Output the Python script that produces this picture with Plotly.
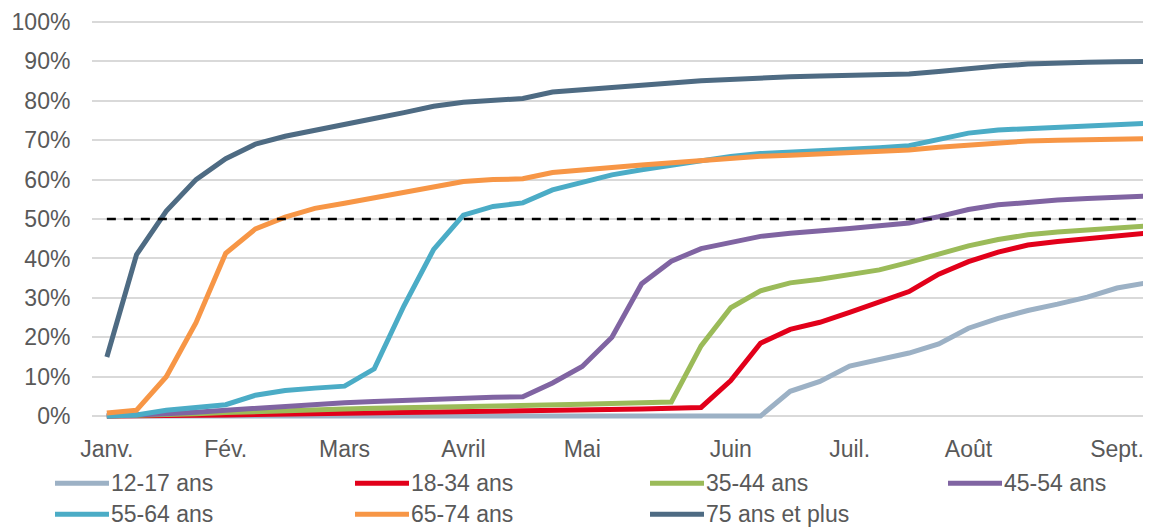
import plotly.graph_objects as go

# ---- data ----
weeks = list(range(36))
tick_pos = [0, 4, 8, 12, 16, 21, 25, 29, 34]
tick_text = ["Janv.", "Fév.", "Mars", "Avril", "Mai", "Juin", "Juil.", "Août", "Sept."]

s_12_17 = [0]*23 + [6.3, 8.8, 12.7, 14.4, 16.0, 18.3, 22.3, 24.8, 26.8, 28.4, 30.2, 32.5, 33.8]
s_18_34 = [0, 0, 0.1, 0.2, 0.3, 0.4, 0.5, 0.6, 0.7, 0.8, 0.8, 0.9, 0.9, 1.0, 1.1, 1.2, 1.4, 1.6,
           1.8, 2.0, 2.2, 9.0, 18.5, 22.0, 23.8, 26.3, 28.8, 31.6, 36.0, 39.2, 41.6, 43.4, 44.3,
           45.0, 45.7, 46.4]
s_35_44 = [0, 0.1, 0.3, 0.6, 0.9, 1.2, 1.4, 1.6, 1.8, 2.0, 2.1, 2.3, 2.4, 2.5, 2.7, 2.9, 3.0, 3.2,
           3.4, 3.6, 17.8, 27.5, 31.8, 33.8, 34.7, 35.9, 37.1, 39.0, 41.2, 43.2, 44.8, 46.0, 46.7,
           47.2, 47.7, 48.2]
s_45_54 = [0, 0.2, 0.6, 1.0, 1.5, 2.2, 2.7, 3.0, 3.4, 3.7, 4.0, 4.4, 4.8, 4.8, 4.9, 8.4, 12.6, 20.0,
           33.6, 39.3, 42.5, 44.2, 45.6, 46.4, 46.9, 47.6, 48.3, 49.0, 50.6, 52.4, 53.6, 54.3, 54.8,
           55.2, 55.5, 55.8]
s_55_64 = [0, 0.3, 1.5, 2.3, 2.9, 5.3, 6.5, 7.1, 7.6, 12.0, 28.0, 42.3, 51.0, 53.2, 54.1, 57.4,
           59.2, 61.2, 62.5, 63.6, 64.8, 65.9, 66.6, 66.9, 67.2, 67.6, 68.1, 68.6, 70.2, 71.8, 72.6,
           73.0, 73.4, 73.7, 74.0, 74.3]
s_65_74 = [0.8, 1.5, 10.0, 23.7, 41.3, 47.5, 50.5, 52.7, 54.0, 55.4, 56.8, 58.0, 59.5, 60.0, 60.2,
           61.8, 62.3, 63.1, 63.7, 64.3, 64.9, 65.5, 65.9, 66.2, 66.5, 66.8, 67.1, 67.5, 68.2, 68.8,
           69.4, 69.8, 70.0, 70.2, 70.3, 70.4]
s_75_plus = [15.0, 41.0, 52.0, 60.0, 65.3, 69.0, 71.0, 72.6, 74.0, 75.5, 77.0, 78.6, 79.6, 80.2,
             80.6, 82.2, 82.7, 83.4, 83.9, 84.5, 85.1, 85.5, 85.9, 86.1, 86.3, 86.4, 86.6, 86.8,
             87.4, 88.2, 88.8, 89.3, 89.7, 89.8, 89.9, 90.0]
threshold = 50

names = ["12-17 ans", "18-34 ans", "35-44 ans", "45-54 ans", "55-64 ans", "65-74 ans", "75 ans et plus"]
colors = ["#9cb1c5", "#e2001a", "#9bbb59", "#8064a2", "#4bacc6", "#f79646", "#4e6b83"]
series = [s_12_17, s_18_34, s_35_44, s_45_54, s_55_64, s_65_74, s_75_plus]

# ---- layout geometry (pixels, screen coordinates; page body has an 8px margin) ----
OFF = 8
VW, VH = 1151, 528
W, H = VW - OFF, VH - OFF
FONT = "Liberation Sans, Arial, sans-serif"
FS = 23
TXT = "#595959"
px_per_week = 29.71
plot_left, plot_right = 92 - OFF, VW - OFF
y0_px, y100_px = 416 - OFF, 22 - OFF
ymin, ymax = -0.02, 1.01
unit = (y0_px - y100_px)
plot_bottom = y0_px - ymin * unit
plot_top = y100_px - (ymax - 1) * unit
xmin = -0.5
xmax = xmin + (plot_right - plot_left) / px_per_week

fig = go.Figure()
for name, col, vals in zip(names, colors, series):
    fig.add_trace(go.Scatter(
        x=weeks, y=[v / 100 for v in vals], mode="lines", name=name,
        line=dict(color=col, width=5), showlegend=False,
    ))

fig.add_trace(go.Scatter(
    x=[weeks[0], weeks[-1]], y=[threshold / 100] * 2, mode="lines",
    line=dict(color="black", width=2.5, dash="9px,8px"), showlegend=False, hoverinfo="skip",
))

def xp(px):
    return (px - OFF - plot_left) / (plot_right - plot_left)

def yp(py):
    return (plot_bottom - (py - OFF)) / (plot_bottom - plot_top)

# manual legend (screen pixel positions)
leg_cols = [55, 355, 650, 948]
leg_rows = [483, 514]
for i, (name, col) in enumerate(zip(names, colors)):
    cx = leg_cols[i % 4]
    cy = leg_rows[i // 4]
    fig.add_shape(type="line", xref="paper", yref="paper",
                  x0=xp(cx), x1=xp(cx + 54), y0=yp(cy), y1=yp(cy),
                  line=dict(color=col, width=5))
    fig.add_annotation(xref="paper", yref="paper", x=xp(cx + 55), y=yp(cy),
                       text=name, showarrow=False, xanchor="left", yanchor="middle",
                       height=26, borderpad=0,
                       font=dict(family=FONT, size=FS, color=TXT))

fig.update_layout(
    width=W, height=H,
    margin=dict(l=plot_left, r=W - plot_right, t=plot_top, b=H - plot_bottom, pad=0,
                autoexpand=False),
    paper_bgcolor="white", plot_bgcolor="white",
    font=dict(family=FONT, size=FS, color=TXT),
    showlegend=False,
    xaxis=dict(range=[xmin, xmax], tickvals=tick_pos, ticktext=tick_text, automargin=False,
               showgrid=False, zeroline=False, showline=False,
               ticks="outside", ticklen=4, tickcolor="rgba(0,0,0,0)",
               tickfont=dict(family=FONT, size=FS, color=TXT)),
    yaxis=dict(range=[ymin, ymax], tickvals=[i / 10 for i in range(11)], automargin=False,
               tickformat=".0%", showgrid=True, gridcolor="#d9d9d9", gridwidth=1.5,
               zeroline=False, showline=False,
               ticks="outside", ticklen=16, tickcolor="rgba(0,0,0,0)",
               tickfont=dict(family=FONT, size=FS, color=TXT)),
)

fig.write_html("out.html")
